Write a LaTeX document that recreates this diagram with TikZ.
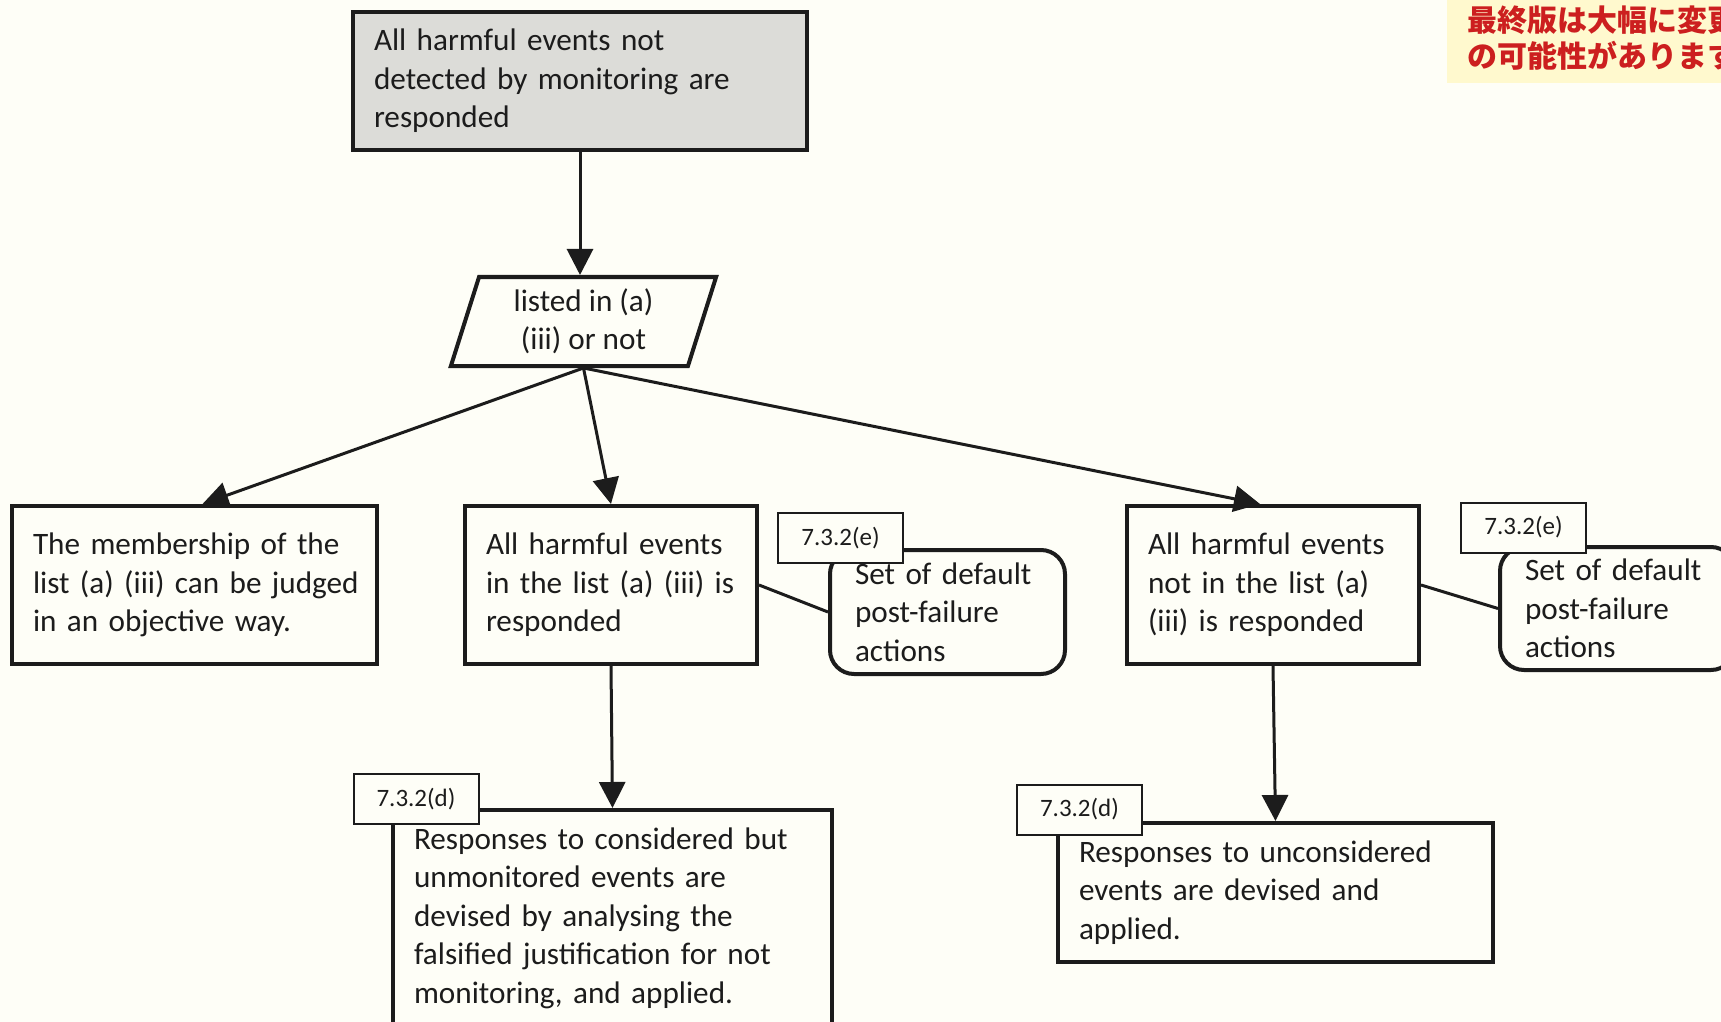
\documentclass[tikz,border=0pt]{standalone}
\usepackage{fontspec}
\setmainfont{Carlito}
\newfontfamily\cjk{Noto Sans CJK JP}
\usetikzlibrary{shapes.geometric,arrows.meta,calc}
\definecolor{bgc}{HTML}{FEFEF7}
\definecolor{notebg}{HTML}{FFF9CE}
\definecolor{notered}{HTML}{CC1F1F}
\definecolor{topgray}{HTML}{DCDCD8}
\definecolor{ink}{HTML}{1C1C1C}
\newcommand{\oneline}[1]{\mbox{#1}}
\begin{document}
\begin{tikzpicture}[x=0.5pt,y=-0.5pt,
  box/.style={draw=ink, line width=2pt, fill=bgc, inner xsep=10.5pt, inner ysep=0pt, align=left,
    font=\fontsize{15.6}{19.25}\selectfont, text=ink},
  rbox/.style={box, rounded corners=12pt, inner xsep=12.5pt},
  tagbox/.style={draw=ink, line width=1pt, fill=bgc, inner sep=0pt, minimum width=62.5pt,
    minimum height=25pt, font=\fontsize{12.5}{14}\selectfont, text=ink},
  arr/.style={draw=ink, line width=1.5pt, -{Triangle[length=13pt,width=13pt]}},
  link/.style={draw=ink, line width=1.5pt}
]
\useasboundingbox (0,0) rectangle (1721,1022);
\fill[bgc] (0,0) rectangle (1721,1022);
\fill[notebg] (1447,0) rectangle (1721,83);
\node[anchor=west, inner sep=0pt, align=left, text=notered,
  font=\cjk\bfseries\fontsize{15}{18}\selectfont] (note) at (1467,38)
  {最終版は大幅に変更\\の可能性があります};

% main boxes
\node[box, fill=topgray, text width=206pt, minimum height=69pt] (top) at (580,81)
  {\oneline{All harmful events not}\\\oneline{detected by monitoring are}\\responded};
\node[draw=ink, line width=2pt, fill=bgc, trapezium, trapezium left angle=74,
  trapezium right angle=106, trapezium stretches=true, minimum width=133.5pt,
  minimum height=44.5pt, inner sep=0pt, align=center,
  font=\fontsize{15.6}{19.25}\selectfont, text=ink] (par) at (583.5,321.5)
  {listed in (a)\\(iii) or not};
\node[box, text width=161.5pt, minimum height=79pt] (lb) at (194.5,585)
  {\oneline{The membership of the}\\\oneline{list (a) (iii) can be judged}\\\oneline{in an objective way.}};
\node[box, text width=125pt, minimum height=79pt] (mb) at (611,585)
  {\oneline{All harmful events}\\\oneline{in the list (a) (iii) is}\\responded};
\node[box, text width=125pt, minimum height=79pt] (rb) at (1273,585)
  {\oneline{All harmful events}\\\oneline{not in the list (a)}\\\oneline{(iii) is responded}};
\node[rbox, text width=92.5pt, minimum height=62pt] (mr) at (947.5,612)
  {\oneline{Set of default}\\post-failure\\actions};
\node[rbox, text width=92.5pt, minimum height=61.5pt] (rr) at (1617.5,608.5)
  {\oneline{Set of default}\\post-failure\\actions};
\node[box, text width=198.5pt, minimum height=108pt] (bm) at (612.5,918)
  {\oneline{Responses to considered but}\\\oneline{unmonitored events are}\\\oneline{devised by analysing the}\\\oneline{falsified justification for not}\\\oneline{monitoring, and applied.}};
\node[box, text width=196.5pt, minimum height=69.5pt] (br) at (1275.5,892.5)
  {\oneline{Responses to unconsidered}\\\oneline{events are devised and}\\applied.};

% tags
\node[tagbox] (te1) at (840.5,538) {7.3.2(e)};
\node[tagbox] (te2) at (1523.5,527.5) {7.3.2(e)};
\node[tagbox] (td1) at (416,799) {7.3.2(d)};
\node[tagbox] (td2) at (1079.5,809.5) {7.3.2(d)};

% connectors
\coordinate (pb) at (par.center |- par.south);
\draw[arr] (top.south) -- (top.south |- par.north);
\draw[arr] (pb) -- ($(lb.north)+(8,0)$);
\draw[arr] (pb) -- (mb.north);
\draw[arr] (pb) -- ($(rb.north)+(-13,0)$);
\draw[arr] (mb.south) -- (bm.north);
\draw[arr] (rb.south) -- (br.north);
\draw[link] (mb.east) -- (mr.west);
\draw[link] (rb.east) -- (rr.west);
\end{tikzpicture}
\end{document}
